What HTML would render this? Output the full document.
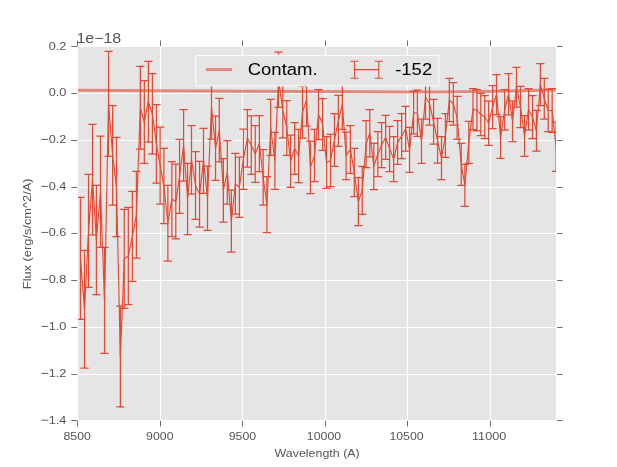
<!DOCTYPE html>
<html><head><meta charset="utf-8"><title>plot</title><style>html,body{margin:0;padding:0;background:#fff}body{width:617px;height:467px;overflow:hidden}</style></head><body>
<svg width="617" height="467" viewBox="0 0 617 467" style="display:block;will-change:transform;font-family:'Liberation Sans',sans-serif">
<rect width="617" height="467" fill="#fff"/>
<rect x="78.0" y="47.0" width="477.9" height="372.8" fill="#E5E5E5"/>
<defs><clipPath id="c"><rect x="78.0" y="47.0" width="477.9" height="372.8"/></clipPath></defs>
<path d="M160.5 47.0V419.8M242.5 47.0V419.8M325.5 47.0V419.8M407.5 47.0V419.8M490.5 47.0V419.8M78.0 93.5H555.9M78.0 140.5H555.9M78.0 187.5H555.9M78.0 233.5H555.9M78.0 280.5H555.9M78.0 327.5H555.9M78.0 374.5H555.9" stroke="#fff" stroke-width="1.15" fill="none"/>
<path d="M77.5 420.9V426.5M77.5 46.1V40.5M160.5 420.9V426.5M160.5 46.1V40.5M242.5 420.9V426.5M242.5 46.1V40.5M325.5 420.9V426.5M325.5 46.1V40.5M407.5 420.9V426.5M407.5 46.1V40.5M490.5 420.9V426.5M490.5 46.1V40.5M77.3 46.5H71.3M557 46.5H562.8M77.3 93.5H71.3M557 93.5H562.8M77.3 140.5H71.3M557 140.5H562.8M77.3 187.5H71.3M557 187.5H562.8M77.3 233.5H71.3M557 233.5H562.8M77.3 280.5H71.3M557 280.5H562.8M77.3 327.5H71.3M557 327.5H562.8M77.3 374.5H71.3M557 374.5H562.8M77.3 420.5H71.3M557 420.5H562.8" stroke="#555555" stroke-width="0.85" fill="none"/>
<g clip-path="url(#c)" fill="none">
<polyline points="78,90.3 160,90.8 240,91.2 300,91.5 360,91.8 400,92.0 440,92.0 480,91.6 510,91.0 540,90.2 556,89.7" stroke="#E24A33" stroke-opacity="0.6" stroke-width="3"/>
<path d="M80.49 197.4V319.4M76.39 197.4h8.2M76.39 319.4h8.2M84.52 250.3V368.2M80.42 250.3h8.2M80.42 368.2h8.2M88.55 174.4V287.3M84.45 174.4h8.2M84.45 287.3h8.2M92.53 124.4V234.9M88.43 124.4h8.2M88.43 234.9h8.2M96.41 185.4V294.5M92.31 185.4h8.2M92.31 294.5h8.2M100.49 136.2V247.4M96.39 136.2h8.2M96.39 247.4h8.2M104.52 247.4V353.4M100.42 247.4h8.2M100.42 353.4h8.2M108.55 51.3V156.4M104.45 51.3h8.2M104.45 156.4h8.2M112.64 105.6V205.2M108.54 105.6h8.2M108.54 205.2h8.2M116.47 137.3V236.5M112.37 137.3h8.2M112.37 236.5h8.2M120.35 306.2V406.8M116.25 306.2h8.2M116.25 406.8h8.2M124.28 209.3V308.3M120.18 209.3h8.2M120.18 308.3h8.2M128.31 207.3V304.6M124.21 207.3h8.2M124.21 304.6h8.2M132.39 191.4V281.4M128.29 191.4h8.2M128.29 281.4h8.2M136.42 171.4V258.1M132.32 171.4h8.2M132.32 258.1h8.2M140.35 66.3V149.2M136.25 66.3h8.2M136.25 149.2h8.2M144.33 80.6V163.4M140.23 80.6h8.2M140.23 163.4h8.2M148.36 61.3V142.0M144.26 61.3h8.2M144.26 142.0h8.2M152.39 73.6V154.2M148.29 73.6h8.2M148.29 154.2h8.2M156.42 104.6V183.1M152.32 104.6h8.2M152.32 183.1h8.2M160.15 127.2V204.2M156.05 127.2h8.2M156.05 204.2h8.2M163.89 148.4V223.5M159.79 148.4h8.2M159.79 223.5h8.2M167.87 185.4V261.1M163.77 185.4h8.2M163.77 261.1h8.2M171.90 161.7V236.5M167.80 161.7h8.2M167.80 236.5h8.2M175.78 164.2V238.9M171.68 164.2h8.2M171.68 238.9h8.2M179.56 139.3V213.3M175.46 139.3h8.2M175.46 213.3h8.2M183.59 109.7V181.2M179.49 109.7h8.2M179.49 181.2h8.2M187.57 163.4V234.6M183.47 163.4h8.2M183.47 234.6h8.2M191.50 125.5V194.2M187.40 125.5h8.2M187.40 194.2h8.2M195.53 151.5V219.4M191.43 151.5h8.2M191.43 219.4h8.2M199.56 161.4V227.1M195.46 161.4h8.2M195.46 227.1h8.2M203.49 128.4V193.4M199.39 128.4h8.2M199.39 193.4h8.2M207.52 166.2V230.4M203.42 166.2h8.2M203.42 230.4h8.2M211.50 75.4V139.0M207.40 75.4h8.2M207.40 139.0h8.2M215.54 116.2V180.4M211.44 116.2h8.2M211.44 180.4h8.2M219.32 98.3V161.8M215.22 98.3h8.2M215.22 161.8h8.2M223.35 158.5V222.2M219.25 158.5h8.2M219.25 222.2h8.2M227.33 140.6V204.0M223.23 140.6h8.2M223.23 204.0h8.2M231.36 190.1V252.0M227.26 190.1h8.2M227.26 252.0h8.2M235.39 153.3V214.2M231.29 153.3h8.2M231.29 214.2h8.2M239.37 157.2V217.3M235.27 157.2h8.2M235.27 217.3h8.2M243.40 129.2V189.3M239.30 129.2h8.2M239.30 189.3h8.2M247.43 109.7V167.1M243.33 109.7h8.2M243.33 167.1h8.2M251.31 115.8V174.3M247.21 115.8h8.2M247.21 174.3h8.2M255.24 125.5V182.3M251.14 125.5h8.2M251.14 182.3h8.2M259.37 115.5V171.5M255.27 115.5h8.2M255.27 171.5h8.2M263.15 149.5V205.2M259.05 149.5h8.2M259.05 205.2h8.2M266.89 176.5V232.5M262.79 176.5h8.2M262.79 232.5h8.2M270.67 99.3V155.4M266.57 99.3h8.2M266.57 155.4h8.2M274.85 132.3V189.3M270.75 132.3h8.2M270.75 189.3h8.2M278.53 52.1V107.3M274.43 52.1h8.2M274.43 107.3h8.2M282.81 82.9V137.9M278.71 82.9h8.2M278.71 137.9h8.2M286.79 100.5V155.3M282.69 100.5h8.2M282.69 155.3h8.2M290.62 135.0V187.4M286.52 135.0h8.2M286.52 187.4h8.2M294.65 122.6V174.4M290.55 122.6h8.2M290.55 174.4h8.2M298.58 129.4V182.5M294.48 129.4h8.2M294.48 182.5h8.2M302.51 86.0V138.0M298.41 86.0h8.2M298.41 138.0h8.2M306.54 74.2V126.2M302.44 74.2h8.2M302.44 126.2h8.2M310.42 141.1V193.5M306.32 141.1h8.2M306.32 193.5h8.2M314.51 129.4V181.5M310.41 129.4h8.2M310.41 181.5h8.2M318.49 89.6V139.5M314.39 89.6h8.2M314.39 139.5h8.2M322.57 98.5V150.3M318.47 98.5h8.2M318.47 150.3h8.2M326.50 136.5V188.3M322.40 136.5h8.2M322.40 188.3h8.2M330.53 134.3V186.6M326.43 134.3h8.2M326.43 186.6h8.2M334.46 113.6V166.3M330.36 113.6h8.2M330.36 166.3h8.2M338.39 95.4V146.4M334.29 95.4h8.2M334.29 146.4h8.2M342.37 78.8V129.4M338.27 78.8h8.2M338.27 129.4h8.2M346.10 132.2V179.5M342.00 132.2h8.2M342.00 179.5h8.2M350.38 125.5V173.3M346.28 125.5h8.2M346.28 173.3h8.2M354.31 148.4V196.6M350.21 148.4h8.2M350.21 196.6h8.2M358.34 177.6V225.5M354.24 177.6h8.2M354.24 225.5h8.2M362.27 166.3V214.4M358.17 166.3h8.2M358.17 214.4h8.2M366.06 120.6V167.6M361.96 120.6h8.2M361.96 167.6h8.2M369.79 109.6V156.8M365.69 109.6h8.2M365.69 156.8h8.2M373.82 143.4V189.5M369.72 143.4h8.2M369.72 189.5h8.2M377.85 131.6V176.5M373.75 131.6h8.2M373.75 176.5h8.2M381.58 122.5V167.7M377.48 122.5h8.2M377.48 167.7h8.2M385.61 115.4V159.4M381.51 115.4h8.2M381.51 159.4h8.2M389.59 126.4V171.5M385.49 126.4h8.2M385.49 171.5h8.2M393.67 136.5V181.5M389.57 136.5h8.2M389.57 181.5h8.2M397.60 120.6V164.3M393.50 120.6h8.2M393.50 164.3h8.2M401.63 113.6V158.5M397.53 113.6h8.2M397.53 158.5h8.2M405.61 106.4V151.0M401.51 106.4h8.2M401.51 151.0h8.2M409.54 127.4V172.4M405.44 127.4h8.2M405.44 172.4h8.2M413.62 91.4V133.9M409.52 91.4h8.2M409.52 133.9h8.2M417.41 90.2V136.3M413.31 90.2h8.2M413.31 136.3h8.2M421.49 119.0V163.3M417.39 119.0h8.2M417.39 163.3h8.2M425.52 75.0V119.0M421.42 75.0h8.2M421.42 119.0h8.2M429.50 81.8V125.2M425.40 81.8h8.2M425.40 125.2h8.2M433.58 99.3V144.2M429.48 99.3h8.2M429.48 144.2h8.2M437.56 118.4V163.2M433.46 118.4h8.2M433.46 163.2h8.2M441.49 136.5V179.6M437.39 136.5h8.2M437.39 179.6h8.2M445.42 113.6V157.4M441.32 113.6h8.2M441.32 157.4h8.2M449.35 78.4V121.5M445.25 78.4h8.2M445.25 121.5h8.2M453.28 82.5V125.2M449.18 82.5h8.2M449.18 125.2h8.2M457.16 96.4V139.4M453.06 96.4h8.2M453.06 139.4h8.2M461.24 143.4V185.3M457.14 143.4h8.2M457.14 185.3h8.2M464.87 164.3V206.4M460.77 164.3h8.2M460.77 206.4h8.2M468.81 121.3V163.4M464.71 121.3h8.2M464.71 163.4h8.2M472.99 88.7V129.5M468.89 88.7h8.2M468.89 129.5h8.2M476.92 89.7V130.9M472.82 89.7h8.2M472.82 130.9h8.2M480.80 93.3V135.6M476.70 93.3h8.2M476.70 135.6h8.2M484.73 95.5V138.5M480.63 95.5h8.2M480.63 138.5h8.2M488.66 101.1V145.3M484.56 101.1h8.2M484.56 145.3h8.2M492.59 85.5V128.5M488.49 85.5h8.2M488.49 128.5h8.2M496.52 74.5V114.6M492.42 74.5h8.2M492.42 114.6h8.2M500.55 116.5V158.4M496.45 116.5h8.2M496.45 158.4h8.2M504.68 89.7V130.2M500.58 89.7h8.2M500.58 130.2h8.2M508.56 73.6V114.9M504.46 73.6h8.2M504.46 114.9h8.2M512.54 101.1V141.5M508.44 101.1h8.2M508.44 141.5h8.2M516.48 67.3V107.1M512.38 67.3h8.2M512.38 107.1h8.2M520.51 86.4V127.6M516.41 86.4h8.2M516.41 127.6h8.2M524.54 115.5V156.4M520.44 115.5h8.2M520.44 156.4h8.2M528.57 88.7V130.2M524.47 88.7h8.2M524.47 130.2h8.2M532.50 95.5V138.5M528.40 95.5h8.2M528.40 138.5h8.2M536.43 110.3V151.2M532.33 110.3h8.2M532.33 151.2h8.2M540.36 63.5V105.5M536.26 63.5h8.2M536.26 105.5h8.2M544.29 78.4V119.0M540.19 78.4h8.2M540.19 119.0h8.2M548.22 89.4V131.5M544.12 89.4h8.2M544.12 131.5h8.2M552.15 88.7V132.4M548.05 88.7h8.2M548.05 132.4h8.2M556.03 122.0V171.4M551.93 122.0h8.2M551.93 171.4h8.2" stroke="#E24A33" stroke-width="1.25"/>
<polyline points="80.49,258.4 84.52,309.2 88.55,230.9 92.53,179.7 96.41,239.9 100.49,191.8 104.52,300.4 108.55,103.8 112.64,155.4 116.47,186.9 120.35,356.5 124.28,258.8 128.31,256.0 132.39,236.4 136.42,214.8 140.35,107.8 144.33,122.0 148.36,101.7 152.39,113.9 156.42,143.8 160.15,165.7 163.89,185.9 167.87,223.2 171.90,199.1 175.78,201.6 179.56,176.3 183.59,145.4 187.57,199.0 191.50,159.8 195.53,185.4 199.56,194.2 203.49,160.9 207.52,198.3 211.50,107.2 215.54,148.3 219.32,130.1 223.35,190.3 227.33,172.3 231.36,221.1 235.39,183.8 239.37,187.2 243.40,159.2 247.43,138.4 251.31,145.1 255.24,153.9 259.37,143.5 263.15,177.3 266.89,204.5 270.67,127.3 274.85,160.8 278.53,79.7 282.81,110.4 286.79,127.9 290.62,161.2 294.65,148.5 298.58,155.9 302.51,112.0 306.54,100.2 310.42,167.3 314.51,155.4 318.49,114.5 322.57,124.4 326.50,162.4 330.53,160.4 334.46,139.9 338.39,120.9 342.37,104.1 346.10,155.8 350.38,149.4 354.31,172.5 358.34,201.6 362.27,190.4 366.06,144.1 369.79,133.2 373.82,166.4 377.85,154.1 381.58,145.1 385.61,137.4 389.59,148.9 393.67,159.0 397.60,142.4 401.63,136.1 405.61,128.7 409.54,149.9 413.62,112.7 417.41,113.2 421.49,141.2 425.52,97.0 429.50,103.5 433.58,121.8 437.56,140.8 441.49,158.1 445.42,135.5 449.35,100.0 453.28,103.8 457.16,117.9 461.24,164.4 464.87,185.4 468.81,142.3 472.99,109.1 476.92,110.3 480.80,114.4 484.73,117.0 488.66,123.2 492.59,107.0 496.52,94.5 500.55,137.4 504.68,109.9 508.56,94.2 512.54,121.3 516.48,87.2 520.51,107.0 524.54,135.9 528.57,109.4 532.50,117.0 536.43,130.8 540.36,84.5 544.29,98.7 548.22,110.5 552.15,110.6 556.03,146.7" stroke="#E24A33" stroke-width="1.15" stroke-linejoin="round"/>
</g>
<rect x="195.6" y="55.5" width="243.1" height="30.4" fill="#E5E5E5" stroke="#FBFBFB" stroke-width="1.1"/>
<path d="M205.9 69.6H232.1" stroke="#E24A33" stroke-opacity="0.6" stroke-width="3"/>
<path d="M354.5 69.6H378.8M354.5 61.3V78.2M378.8 61.3V78.2M350.4 61.3h8.2M350.4 78.2h8.2M374.7 61.3h8.2M374.7 78.2h8.2" stroke="#E24A33" stroke-width="1.1" fill="none"/>
<text x="247.7" y="75.2" font-size="17.4" fill="#000" textLength="70.0" lengthAdjust="spacingAndGlyphs">Contam.</text>
<text x="395.2" y="75.2" font-size="17.4" fill="#000" textLength="37.0" lengthAdjust="spacingAndGlyphs">-152</text>
<text x="63.53" y="439.9" font-size="10.7" fill="#555555" textLength="27.4" lengthAdjust="spacingAndGlyphs">8500</text>
<text x="146.11" y="439.9" font-size="10.7" fill="#555555" textLength="27.4" lengthAdjust="spacingAndGlyphs">9000</text>
<text x="228.69" y="439.9" font-size="10.7" fill="#555555" textLength="27.4" lengthAdjust="spacingAndGlyphs">9500</text>
<text x="306.84" y="439.9" font-size="10.7" fill="#555555" textLength="34.3" lengthAdjust="spacingAndGlyphs">10000</text>
<text x="389.42" y="439.9" font-size="10.7" fill="#555555" textLength="34.3" lengthAdjust="spacingAndGlyphs">10500</text>
<text x="472.00" y="439.9" font-size="10.7" fill="#555555" textLength="34.3" lengthAdjust="spacingAndGlyphs">11000</text>
<text x="48.7" y="49.9" font-size="10.7" fill="#555555" textLength="17.7" lengthAdjust="spacingAndGlyphs">0.2</text>
<text x="48.7" y="96.4" font-size="10.7" fill="#555555" textLength="17.7" lengthAdjust="spacingAndGlyphs">0.0</text>
<text x="48.7" y="143.4" font-size="10.7" fill="#555555" textLength="17.7" lengthAdjust="spacingAndGlyphs">0.2</text>
<text x="48.7" y="190.4" font-size="10.7" fill="#555555" textLength="17.7" lengthAdjust="spacingAndGlyphs">0.4</text>
<text x="48.7" y="236.4" font-size="10.7" fill="#555555" textLength="17.7" lengthAdjust="spacingAndGlyphs">0.6</text>
<text x="48.7" y="283.4" font-size="10.7" fill="#555555" textLength="17.7" lengthAdjust="spacingAndGlyphs">0.8</text>
<text x="48.7" y="330.4" font-size="10.7" fill="#555555" textLength="17.7" lengthAdjust="spacingAndGlyphs">1.0</text>
<text x="48.7" y="377.4" font-size="10.7" fill="#555555" textLength="17.7" lengthAdjust="spacingAndGlyphs">1.2</text>
<text x="48.7" y="424.2" font-size="10.7" fill="#555555" textLength="17.7" lengthAdjust="spacingAndGlyphs">1.4</text>
<path d="M41.4 139.4H48.2M41.4 186.4H48.2M41.4 232.4H48.2M41.4 279.4H48.2M41.4 326.4H48.2M41.4 373.4H48.2M41.4 420.2H48.2" stroke="#555555" stroke-width="0.95" fill="none"/>
<text x="76.4" y="42.9" font-size="13.8" fill="#555555" textLength="44.8" lengthAdjust="spacingAndGlyphs">1e−18</text>
<text x="274.6" y="457" font-size="11" fill="#555555" textLength="85.1" lengthAdjust="spacingAndGlyphs">Wavelength (A)</text>
<text transform="translate(31.2,289.2) rotate(-90)" font-size="11" fill="#555555" textLength="110.8" lengthAdjust="spacingAndGlyphs">Flux (erg/s/cm^2/A)</text>
</svg>
</body></html>
